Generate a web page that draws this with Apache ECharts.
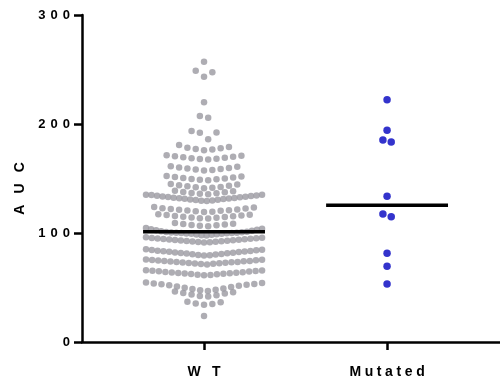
<!DOCTYPE html>
<html>
<head>
<meta charset="utf-8">
<script src="https://cdn.jsdelivr.net/npm/echarts@6/dist/echarts.min.js"></script>
<style>
  html, body { margin: 0; padding: 0; background: #ffffff; }
  #chart { width: 500px; height: 379px; }
</style>
</head>
<body>
<div id="chart"></div>
<script>
// Group labels along the x axis and the y axis title
const groupNames = ['W T', 'Mutated'];
const yAxisTitle = 'A U C';
const yTickValues = [0, 100, 200, 300];

// AUC values of the WT group, one inner list per stacked row of dots (low to high)
const wtAUC = [
  [23.9],
  [34.2, 34.8, 35.3, 36.4, 37.0],
  [41.8, 42.3, 42.9, 43.6, 44.4, 45.0, 45.7, 46.3],
  [46.9, 47.4, 48.0, 48.6, 49.1, 49.8, 50.4, 51.0, 51.6, 52.0, 52.5, 52.9, 53.3, 53.7, 54.1, 54.6],
  [61.2, 61.5, 61.8, 62.1, 62.3, 62.6, 62.8, 63.1, 63.3, 63.6, 63.8, 64.1, 64.3, 64.6, 64.8, 65.1, 65.3, 65.6, 65.9],
  [71.2, 71.5, 71.7, 72.0, 72.2, 72.4, 72.6, 72.9, 73.1, 73.3, 73.5, 73.8, 74.0, 74.2, 74.4, 74.7, 74.9, 75.2, 75.4, 75.7],
  [79.3, 79.6, 79.9, 80.2, 80.5, 80.8, 81.1, 81.4, 81.6, 81.9, 82.2, 82.5, 82.7, 83.0, 83.3, 83.5, 83.8, 84.1, 84.4, 84.7, 85.0],
  [91.3, 91.6, 91.8, 92.0, 92.3, 92.5, 92.7, 93.0, 93.2, 93.4, 93.6, 93.9, 94.1, 94.3, 94.5, 94.8, 95.0, 95.2, 95.5, 95.7, 96.0],
  [97.6, 98.0, 98.3, 98.6, 98.9, 99.2, 99.4, 99.6, 99.8, 100.0, 100.1, 100.2, 100.3, 100.5, 100.7, 100.9, 101.2, 101.6, 102.0, 102.5, 103.0, 103.5, 104.0, 104.6],
  [106.3, 106.7, 107.0, 107.4, 107.8, 108.2, 108.6, 109.1],
  [113.2, 113.5, 113.9, 114.2, 114.6, 114.9, 115.3, 115.6, 116.0, 116.4, 116.8, 117.3],
  [119.3, 119.6, 119.9, 120.3, 120.6, 120.9, 121.3, 121.6, 122.0, 122.4, 122.8, 123.3, 123.8],
  [129.3, 129.6, 129.9, 130.2, 130.5, 130.8, 131.1, 131.4, 131.6, 131.8, 132.1, 132.4, 132.7, 133.0, 133.3, 133.6, 133.9, 134.2, 134.5, 134.8, 135.0, 135.2],
  [135.6, 136.0, 136.4, 136.8, 137.3, 137.7, 138.2, 138.7],
  [141.0, 141.4, 141.9, 142.3, 142.8, 143.3, 143.8, 144.4, 145.0],
  [148.4, 148.8, 149.2, 149.6, 150.0, 150.4, 150.9, 151.3, 151.8, 152.3],
  [157.4, 157.8, 158.3, 158.7, 159.2, 159.7, 160.2, 160.7, 161.3],
  [167.4, 167.8, 168.2, 168.6, 169.0, 169.5, 169.9, 170.4, 170.9, 171.4],
  [176.0, 176.5, 177.1, 177.7, 178.3, 179.0, 180.7],
  [186.0, 192.0, 192.2, 193.6],
  [205.8, 207.3],
  [219.9],
  [243.4, 247.4, 248.9],
  [257.2]
];

// AUC values of the Mutated group, grouped the same way
const mutatedAUC = [
  [53.2],
  [69.4],
  [81.4],
  [115.0, 117.4],
  [133.7],
  [183.5, 185.3],
  [194.2],
  [222.3]
];

// x positions of the two groups on a numeric axis, plus the visible range
const GROUP_X = [1, 2];
const X_MIN = 1 / 3;
const X_MAX = 2.617;
const DOT_STEP = 0.0454;     // horizontal distance between neighbouring dots in a row
const SWARM_HALF = 0.317;    // widest a row of dots may spread from the group centre
const MEDIAN_HALF = 0.333;   // half length of the median bar

// Spread every row of values sideways: lowest value in the middle, higher ones outwards
function swarm(rows, centre) {
  const pts = [];
  rows.forEach(row => {
    const vals = row.slice().sort((a, b) => a - b);
    const n = vals.length;
    const step = n > 1 ? Math.min(DOT_STEP, (2 * SWARM_HALF) / (n - 1)) : 0;
    const slots = [];
    for (let i = 0; i < n; i++) slots.push((i - (n - 1) / 2) * step);
    slots.sort((a, b) => (Math.abs(a) - Math.abs(b)) || (b - a));
    vals.forEach((v, i) => pts.push([centre + slots[i], v]));
  });
  return pts;
}

function median(rows) {
  const v = rows.flat().sort((a, b) => a - b);
  const m = Math.floor(v.length / 2);
  return v.length % 2 ? v[m] : (v[m - 1] + v[m]) / 2;
}

// Letter-spaced labels are built from one rich-text token per character
const FONT = 'Arial, "Liberation Sans", sans-serif';
function spaced(text, key) {
  const chars = Array.from(text);
  return chars.map((c, i) => '{' + (i < chars.length - 1 ? key : key + 'E') + '|' + c + '}').join('');
}
function spacedRich(key, size, gap) {
  const base = { fontSize: size, fontWeight: 'bold', fontFamily: FONT, color: '#000000' };
  const r = {};
  r[key] = Object.assign({}, base, { padding: [0, gap, 0, 0] });
  r[key + 'E'] = Object.assign({}, base);
  return r;
}

const wtMedian = median(wtAUC);
const mutMedian = median(mutatedAUC);

const chart = echarts.init(document.getElementById('chart'), null, { renderer: 'canvas' });

chart.setOption({
  animation: false,
  backgroundColor: '#ffffff',
  grid: { left: 82, right: 0, top: 15, bottom: 37, containLabel: false },
  xAxis: {
    type: 'value',
    min: X_MIN,
    max: X_MAX,
    axisLine: { show: true, lineStyle: { color: '#000000', width: 2.5 } },
    axisTick: { show: true, customValues: GROUP_X, length: 8, lineStyle: { color: '#000000', width: 2.5 } },
    axisLabel: {
      show: true,
      customValues: GROUP_X,
      margin: 23,
      formatter: v => spaced(groupNames[GROUP_X.indexOf(Math.round(v))] || '', 'x'),
      rich: spacedRich('x', 14, 3.6)
    },
    splitLine: { show: false }
  },
  yAxis: {
    type: 'value',
    min: yTickValues[0],
    max: yTickValues[yTickValues.length - 1],
    interval: 100,
    name: spaced(yAxisTitle, 'n'),
    nameLocation: 'middle',
    nameRotate: 90,
    nameGap: 55,
    nameTextStyle: { rich: spacedRich('n', 14, 3.6), padding: [0, 20, 0, 0] },
    axisLine: { show: true, lineStyle: { color: '#000000', width: 2.5 } },
    axisTick: { show: true, length: 8, lineStyle: { color: '#000000', width: 2.5 } },
    axisLabel: {
      margin: 12,
      formatter: v => spaced(String(v), 'y'),
      rich: spacedRich('y', 13, 5)
    },
    splitLine: { show: false }
  },
  series: [
    {
      name: groupNames[0],
      type: 'scatter',
      data: swarm(wtAUC, GROUP_X[0]),
      symbol: 'circle',
      symbolSize: 6.5,
      itemStyle: { color: '#9a99a0' },
      silent: true,
      z: 2
    },
    {
      name: groupNames[1],
      type: 'scatter',
      data: swarm(mutatedAUC, GROUP_X[1]),
      symbol: 'circle',
      symbolSize: 7.5,
      itemStyle: { color: '#0000bf' },
      silent: true,
      z: 2
    },
    {
      name: 'WT median',
      type: 'line',
      data: [[GROUP_X[0] - MEDIAN_HALF, wtMedian], [GROUP_X[0] + MEDIAN_HALF, wtMedian]],
      symbol: 'none',
      lineStyle: { color: '#000000', width: 3.5 },
      silent: true,
      z: 3
    },
    {
      name: 'Mutated median',
      type: 'line',
      data: [[GROUP_X[1] - MEDIAN_HALF, mutMedian], [GROUP_X[1] + MEDIAN_HALF, mutMedian]],
      symbol: 'none',
      lineStyle: { color: '#000000', width: 3.5 },
      silent: true,
      z: 3
    }
  ]
});
</script>
</body>
</html>
